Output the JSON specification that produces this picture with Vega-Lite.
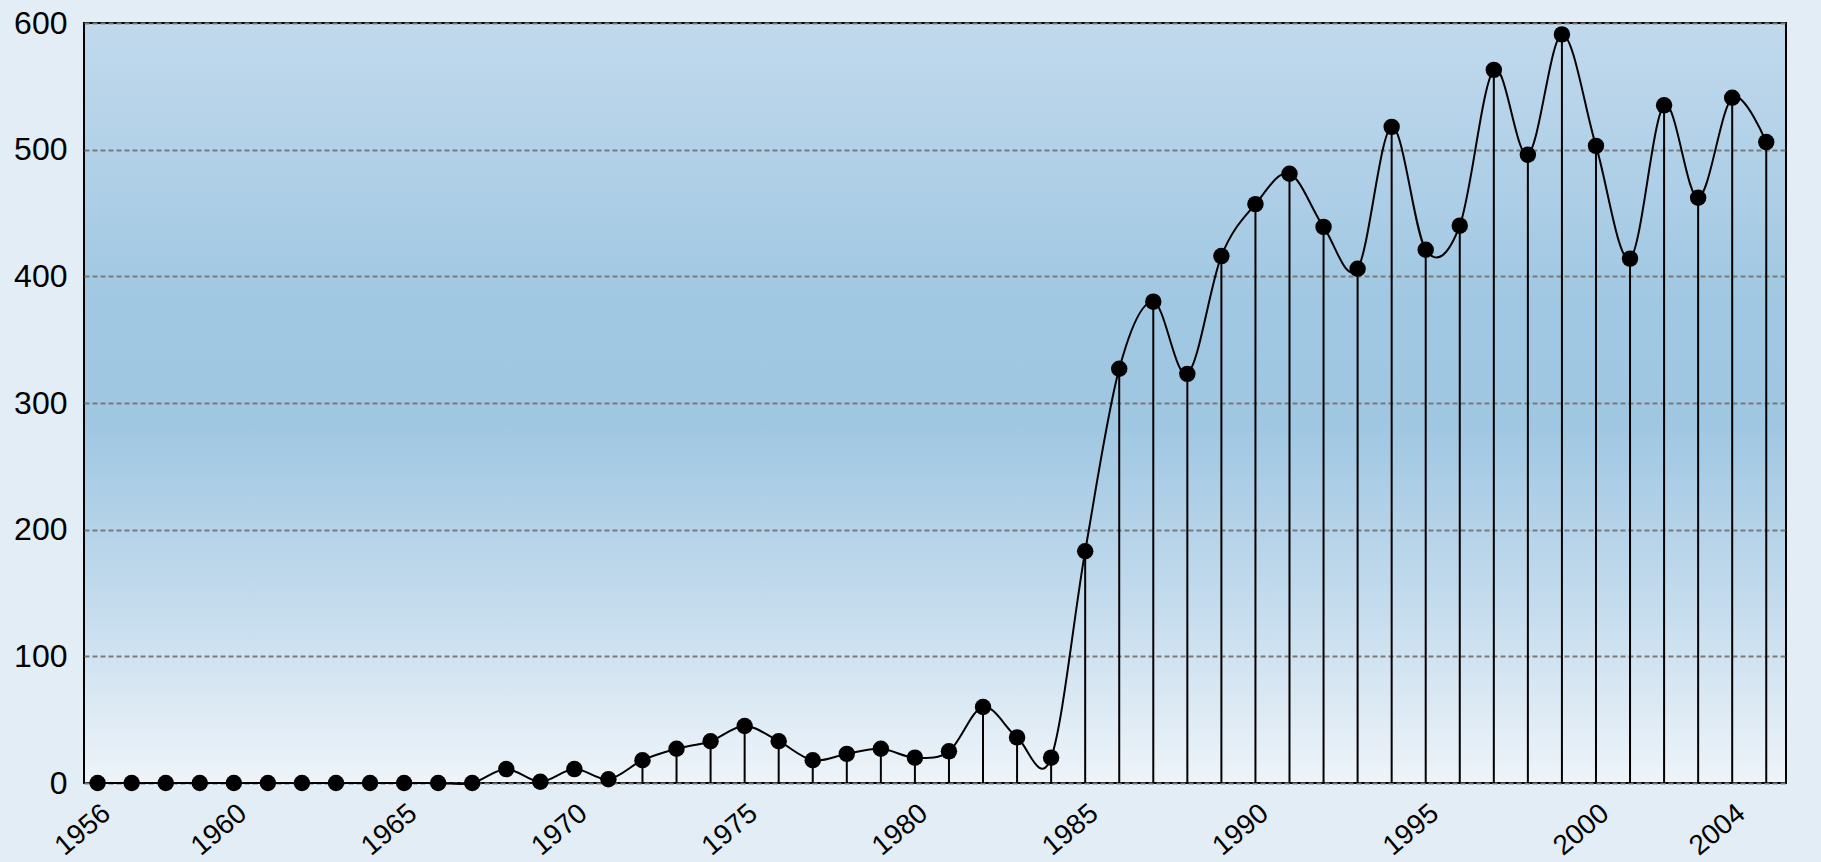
{
  "$schema": "https://vega.github.io/schema/vega-lite/v6.json",
  "width": 1702,
  "height": 760,
  "autosize": {"type": "none"},
  "padding": {"left": 84, "top": 23, "right": 35, "bottom": 79},
  "background": "#e2edf6",
  "config": {
    "font": "Liberation Sans",
    "view": {
      "fill": {
        "gradient": "linear",
        "x1": 0, "y1": 0, "x2": 0, "y2": 1,
        "stops": [
          {"offset": 0, "color": "#c1d9ed"},
          {"offset": 0.36, "color": "#a1c8e2"},
          {"offset": 0.53, "color": "#a0c7e2"},
          {"offset": 0.76, "color": "#c3dbed"},
          {"offset": 1, "color": "#eef4f9"}
        ]
      },
      "stroke": "#000000",
      "strokeWidth": 2
    }
  },
  "data": {
    "values": [
      {"year": 1956, "value": 0}, {"year": 1957, "value": 0}, {"year": 1958, "value": 0},
      {"year": 1959, "value": 0}, {"year": 1960, "value": 0}, {"year": 1961, "value": 0},
      {"year": 1962, "value": 0}, {"year": 1963, "value": 0}, {"year": 1964, "value": 0},
      {"year": 1965, "value": 0}, {"year": 1966, "value": 0}, {"year": 1967, "value": 0},
      {"year": 1968, "value": 11}, {"year": 1969, "value": 1}, {"year": 1970, "value": 11},
      {"year": 1971, "value": 3}, {"year": 1972, "value": 18}, {"year": 1973, "value": 27},
      {"year": 1974, "value": 33}, {"year": 1975, "value": 45}, {"year": 1976, "value": 33},
      {"year": 1977, "value": 18}, {"year": 1978, "value": 23}, {"year": 1979, "value": 27},
      {"year": 1980, "value": 20}, {"year": 1981, "value": 25}, {"year": 1982, "value": 60},
      {"year": 1983, "value": 36}, {"year": 1984, "value": 20}, {"year": 1985, "value": 183},
      {"year": 1986, "value": 327}, {"year": 1987, "value": 380}, {"year": 1988, "value": 323},
      {"year": 1989, "value": 416}, {"year": 1990, "value": 457}, {"year": 1991, "value": 481},
      {"year": 1992, "value": 439}, {"year": 1993, "value": 406}, {"year": 1994, "value": 518},
      {"year": 1995, "value": 421}, {"year": 1996, "value": 440}, {"year": 1997, "value": 563},
      {"year": 1998, "value": 496}, {"year": 1999, "value": 591}, {"year": 2000, "value": 503},
      {"year": 2001, "value": 414}, {"year": 2002, "value": 535}, {"year": 2003, "value": 462},
      {"year": 2004, "value": 541}, {"year": 2005, "value": 506}
    ]
  },
  "encoding": {
    "x": {
      "field": "year",
      "type": "quantitative",
      "scale": {"domain": [1955.6, 2005.58], "nice": false, "zero": false},
      "axis": {
        "title": null,
        "values": [1956, 1960, 1965, 1970, 1975, 1980, 1985, 1990, 1995, 2000, 2004],
        "format": "d",
        "labelAngle": -40,
        "labelFontSize": 28,
        "labelColor": "#000000",
        "labelPadding": 16,
        "ticks": false,
        "domain": false,
        "grid": false,
        "labelOverlap": false,
        "labelFlush": false
      }
    },
    "y": {
      "field": "value",
      "type": "quantitative",
      "scale": {"domain": [0, 600], "nice": false},
      "axis": {
        "title": null,
        "values": [0, 100, 200, 300, 400, 500, 600],
        "labelFontSize": 32,
        "labelColor": "#000000",
        "labelPadding": 17,
        "ticks": false,
        "domain": false,
        "grid": true,
        "gridColor": "#7a7a7a",
        "gridDash": [5, 3],
        "gridWidth": 1.8,
        "labelOverlap": false,
        "labelFlush": false
      }
    }
  },
  "layer": [
    {
      "transform": [{"filter": "datum.year >= 1972"}],
      "mark": {"type": "rule", "color": "#000000", "strokeWidth": 2},
      "encoding": {"y2": {"datum": 0}}
    },
    {
      "mark": {"type": "line", "interpolate": "cardinal", "color": "#000000", "strokeWidth": 2},
      "encoding": {}
    },
    {
      "mark": {"type": "circle", "color": "#000000", "opacity": 1, "size": 270},
      "encoding": {}
    }
  ]
}
